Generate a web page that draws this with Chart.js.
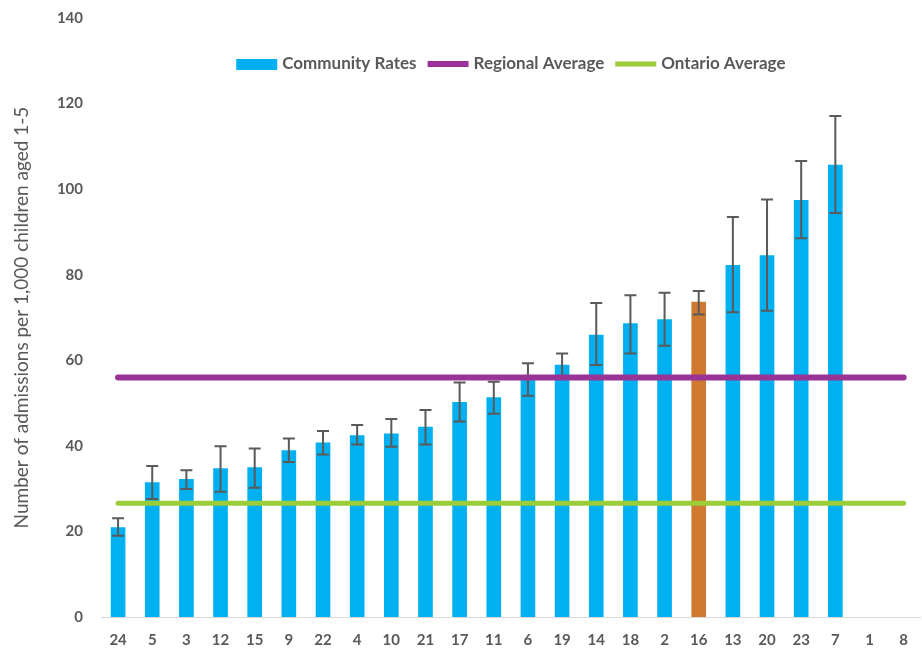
<!DOCTYPE html>
<html>
<head>
<meta charset="utf-8">
<script src="https://cdn.jsdelivr.net/npm/chart.js@4.4.1/dist/chart.umd.min.js"></script>
<style>
  html, body { margin: 0; padding: 0; background: #ffffff; }
  #wrap { width: 922px; height: 651px; position: relative; }
</style>
</head>
<body>
<div id="wrap"><canvas id="chart"></canvas></div>
<script>
// Communities, ordered by admission rate
const communities = ['24', '5', '3', '12', '15', '9', '22', '4', '10', '21', '17', '11',
                     '6', '19', '14', '18', '2', '16', '13', '20', '23', '7', '1', '8'];

// Admissions per 1,000 children aged 1-5
const communityRates = [20.9, 31.4, 32.2, 34.7, 34.9, 38.9, 40.7, 42.4, 42.8, 44.4, 50.2, 51.3,
                        55.5, 58.9, 65.9, 68.6, 69.5, 73.6, 82.2, 84.5, 97.4, 105.6, null, null];

// 95% confidence interval bounds
const ciLower = [19.0, 27.6, 29.9, 29.3, 30.2, 36.2, 38.0, 40.3, 39.8, 40.3, 45.7, 47.5,
                 51.7, 56.2, 58.9, 61.6, 63.4, 70.7, 71.2, 71.6, 88.5, 94.4, null, null];
const ciUpper = [23.1, 35.3, 34.3, 39.9, 39.4, 41.7, 43.5, 44.9, 46.3, 48.4, 54.8, 55.0,
                 59.3, 61.6, 73.4, 75.2, 75.8, 76.2, 93.5, 97.6, 106.6, 117.1, null, null];

// Reference rates
const regionalAverage = [56.0];
const ontarioAverage = [26.6];

// Community shown in a contrasting colour
const highlightedCommunity = '16';

const seriesNames = ['Community Rates', 'Regional Average', 'Ontario Average'];
const yTickValues = [0, 20, 40, 60, 80, 100, 120, 140];

const COLORS = {
  bar: '#00B0F0',
  highlight: '#CF7A30',
  regional: '#9A3396',
  ontario: '#9ACD37',
  whisker: '#5A5A5A',
  text: '#595959',
  axis: '#D9D9D9'
};
const FONT_FAMILY = 'Lato, "Open Sans", "Liberation Sans", sans-serif';

// Confidence-interval whiskers drawn on top of the bars, under the average lines
const errorBars = {
  id: 'errorBars',
  afterDatasetDraw(chart, args) {
    if (args.index !== 0) return;
    const { ctx } = chart;
    const yScale = chart.scales.y;
    const meta = args.meta;
    ctx.save();
    ctx.strokeStyle = COLORS.whisker;
    ctx.lineWidth = 2;
    meta.data.forEach((bar, i) => {
      if (ciLower[i] == null || ciUpper[i] == null) return;
      const x = bar.x;
      const yLo = yScale.getPixelForValue(ciLower[i]);
      const yHi = yScale.getPixelForValue(ciUpper[i]);
      const cap = 6;
      ctx.beginPath();
      ctx.moveTo(x, yLo); ctx.lineTo(x, yHi);
      ctx.moveTo(x - cap, yHi); ctx.lineTo(x + cap, yHi);
      ctx.moveTo(x - cap, yLo); ctx.lineTo(x + cap, yLo);
      ctx.stroke();
    });
    ctx.restore();
  }
};

// Legend row placed inside the plot, near the top
const insetLegend = {
  id: 'insetLegend',
  afterDraw(chart) {
    const { ctx, chartArea } = chart;
    const keyW = 41, keyGap = 5, itemGap = 11;
    ctx.save();
    ctx.font = 'bold 17px ' + FONT_FAMILY;
    ctx.textBaseline = 'middle';
    const items = chart.data.datasets.map(ds => ({
      text: ds.label,
      kind: ds.type === 'line' ? 'line' : 'box',
      color: ds.legendColor,
      width: ds.type === 'line' ? ds.borderWidth : 11
    }));
    const widths = items.map(it => keyW + keyGap + ctx.measureText(it.text).width);
    const total = widths.reduce((a, b) => a + b, 0) + itemGap * (items.length - 1);
    let x = (chartArea.left + chartArea.right) / 2 - total / 2;
    const y = chartArea.top + 46;
    items.forEach((it, i) => {
      if (it.kind === 'box') {
        ctx.fillStyle = it.color;
        ctx.fillRect(x, y - 5, keyW, 11);
      } else {
        ctx.strokeStyle = it.color;
        ctx.lineWidth = it.width;
        ctx.beginPath();
        ctx.moveTo(x, y); ctx.lineTo(x + keyW, y);
        ctx.stroke();
      }
      ctx.fillStyle = COLORS.text;
      ctx.fillText(it.text, x + keyW + keyGap, y);
      x += widths[i] + itemGap;
    });
    ctx.restore();
  }
};

new Chart(document.getElementById('chart'), {
  data: {
    labels: communities,
    datasets: [
      {
        type: 'bar',
        label: seriesNames[0],
        data: communityRates,
        backgroundColor: communities.map(c => c === highlightedCommunity ? COLORS.highlight : COLORS.bar),
        legendColor: COLORS.bar,
        barThickness: 14,
        order: 3
      },
      {
        type: 'line',
        label: seriesNames[1],
        data: communities.map(() => regionalAverage[0]),
        borderColor: COLORS.regional,
        legendColor: COLORS.regional,
        borderWidth: 6,
        borderCapStyle: 'round',
        pointRadius: 0,
        pointHoverRadius: 0,
        order: 1
      },
      {
        type: 'line',
        label: seriesNames[2],
        data: communities.map(() => ontarioAverage[0]),
        borderColor: COLORS.ontario,
        legendColor: COLORS.ontario,
        borderWidth: 5,
        borderCapStyle: 'round',
        pointRadius: 0,
        pointHoverRadius: 0,
        order: 2
      }
    ]
  },
  options: {
    responsive: true,
    maintainAspectRatio: false,
    animation: false,
    layout: { padding: { top: 18, right: 0, bottom: 0, left: 8 } },
    plugins: {
      legend: { display: false },
      tooltip: { enabled: false }
    },
    scales: {
      x: {
        offset: true,
        grid: { display: false, drawTicks: false },
        border: { display: true, color: COLORS.axis, width: 1 },
        afterFit: (scale) => { scale.height = 34; },
        ticks: {
          color: COLORS.text,
          padding: 14,
          maxRotation: 0,
          autoSkip: false,
          font: { family: FONT_FAMILY, size: 15, weight: 'bold' }
        }
      },
      y: {
        min: 0,
        max: 140,
        afterBuildTicks: (scale) => { scale.ticks = yTickValues.map(v => ({ value: v })); },
        afterFit: (scale) => {
          scale.width = 93;
          scale.paddingTop = 0;
          scale.paddingBottom = 0;
        },
        grid: { display: false, drawTicks: false },
        border: { display: false },
        ticks: {
          color: COLORS.text,
          padding: 18,
          font: { family: FONT_FAMILY, size: 15, weight: 'bold' }
        },
        title: {
          display: true,
          text: 'Number of admissions per 1,000 children aged 1-5',
          color: COLORS.text,
          padding: { top: 2, bottom: 0 },
          font: { family: FONT_FAMILY, size: 19, weight: 'normal' }
        }
      }
    }
  },
  plugins: [errorBars, insetLegend]
});
</script>
</body>
</html>
